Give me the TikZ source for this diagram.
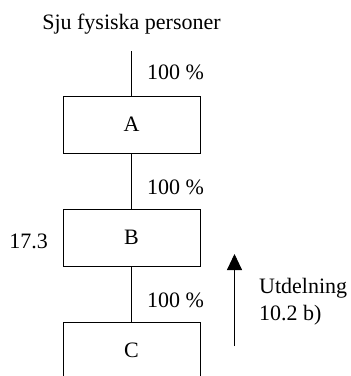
\documentclass[tikz,border=0pt]{standalone}
\usepackage{fontspec}
\setmainfont{Liberation Serif}
\usetikzlibrary{arrows.meta}
\begin{document}
\begin{tikzpicture}[x=1pt,y=-1pt,
  ent/.style={draw,line width=0.9pt,minimum width=137pt,minimum height=57pt,inner sep=0pt,font=\fontsize{22}{27}\selectfont},
  lbl/.style={inner sep=0pt,font=\fontsize{22}{27}\selectfont},
  conn/.style={line width=0.9pt}]
\useasboundingbox (0,0) rectangle (351,376);
\clip (0,0) rectangle (351,376);
\node[lbl] (title) at (131.5,24) {Sju fysiska personer};
\coordinate (top) at (131.5,51);
\node[ent] (A) at (131.5,124.5) {A};
\node[ent] (B) at (131.5,237.5) {B};
\node[ent] (C) at (131.5,350.5) {C};
\draw[conn] (top) -- (A.north);
\draw[conn] (A.south) -- (B.north);
\draw[conn] (B.south) -- (C.north);
\node[lbl,anchor=west] (p1) at (147,72) {100 \%};
\node[lbl,anchor=west] (p2) at (147,187) {100 \%};
\node[lbl,anchor=west] (p3) at (147,300) {100 \%};
\node[lbl,anchor=east] (n) at (48,241) {17.3};
\coordinate (arrS) at (234.5,346);
\coordinate (arrE) at (234.5,254);
\draw[conn,-{Triangle[width=15pt,length=16pt]}] (arrS) -- (arrE);
\node[lbl,anchor=west,align=left] (u) at (259,301.5) {Utdelning\\10.2 b)};
\end{tikzpicture}
\end{document}
